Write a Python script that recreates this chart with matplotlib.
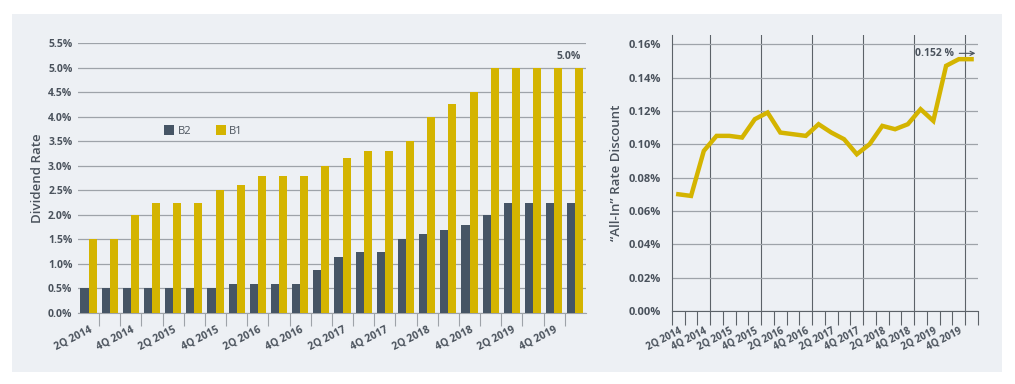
import numpy as np
import matplotlib.pyplot as plt
from matplotlib.patches import Rectangle

plt.rcParams['font.family'] = ['Open Sans', 'DejaVu Sans']

# quarters 2Q 2014 .. 1Q 2020
quarters = ['2Q 2014', '3Q 2014', '4Q 2014', '1Q 2015', '2Q 2015', '3Q 2015',
            '4Q 2015', '1Q 2016', '2Q 2016', '3Q 2016', '4Q 2016', '1Q 2017',
            '2Q 2017', '3Q 2017', '4Q 2017', '1Q 2018', '2Q 2018', '3Q 2018',
            '4Q 2018', '1Q 2019', '2Q 2019', '3Q 2019', '4Q 2019', '1Q 2020']

b2 = [0.5, 0.5, 0.5, 0.5, 0.5, 0.5, 0.5, 0.6, 0.6, 0.6, 0.6, 0.87,
      1.15, 1.25, 1.25, 1.5, 1.6, 1.7, 1.8, 2.0, 2.25, 2.25, 2.25, 2.25]
b1 = [1.5, 1.5, 2.0, 2.25, 2.25, 2.25, 2.5, 2.6, 2.8, 2.8, 2.8, 3.0,
      3.15, 3.3, 3.3, 3.5, 4.0, 4.25, 4.5, 5.0, 5.0, 5.0, 5.0, 5.0]

all_in = [0.070, 0.069, 0.096, 0.105, 0.105, 0.104, 0.115, 0.119, 0.107, 0.106,
          0.105, 0.112, 0.107, 0.103, 0.094, 0.100, 0.111, 0.109, 0.112, 0.121,
          0.114, 0.147, 0.151, 0.151]

left_yticks = [0, 0.5, 1, 1.5, 2, 2.5, 3, 3.5, 4, 4.5, 5, 5.5]
right_yticks = [0, 0.02, 0.04, 0.06, 0.08, 0.10, 0.12, 0.14, 0.16]

DARK = '#465565'
GOLD = '#D4B400'
BG = '#EDF0F4'
TXT = '#4A525C'
GRID = '#9EA3A9'

fig = plt.figure(figsize=(10.15, 3.84), dpi=100)
fig.patch.set_facecolor('white')
fig.patches.append(Rectangle((12 / 1015, 12 / 384), 990 / 1015, 358 / 384,
                             transform=fig.transFigure, facecolor=BG,
                             edgecolor='none', zorder=-10))

x = np.arange(len(quarters))

# ---------- left: dividend rate bars ----------
ax1 = fig.add_axes([0.0768, 0.1849, 0.5005, 0.703])
ax1.set_facecolor('none')
w = 0.38
ax1.bar(x - w / 2, b2, width=w, color=DARK, label='B2', zorder=3)
ax1.bar(x + w / 2, b1, width=w, color=GOLD, label='B1', zorder=3)
ax1.set_xlim(-0.5, len(quarters) - 0.5)
ax1.set_ylim(0, 5.5)
ax1.set_yticks(left_yticks)
ax1.set_yticklabels([f'{v:.1f}%' for v in left_yticks])
ax1.yaxis.grid(True, color=GRID, linewidth=0.9, zorder=0)
ax1.set_axisbelow(True)
for s in ['top', 'right', 'left']:
    ax1.spines[s].set_visible(False)
ax1.spines['bottom'].set_color(GRID)
ax1.tick_params(axis='y', length=0, pad=4, labelsize=7.5, labelcolor=TXT)
for lab in ax1.get_yticklabels():
    lab.set_fontweight('bold')
ax1.set_xticks(x[:-1] + 0.5)
ax1.set_xticklabels([])
ax1.tick_params(axis='x', which='major', length=9, color=GRID)
ax1.set_xticks(x[::2], minor=True)
ax1.set_xticklabels(quarters[::2], minor=True, rotation=27, ha='right',
                    rotation_mode='anchor', fontsize=7.5, color=TXT,
                    fontweight='bold')
ax1.tick_params(axis='x', which='minor', length=0, pad=8)
ax1.set_ylabel('Dividend Rate', fontsize=9.5, color=TXT, labelpad=3,
               fontweight='semibold')
ax1.text(22.7, 5.12, '5.0%', ha='center', va='bottom', fontsize=7.5,
         fontweight='bold', color=TXT)
ax1.legend(loc='center left', bbox_to_anchor=(0.15, 0.674), ncol=2,
           frameon=False, handlelength=0.9, handleheight=0.9,
           handletextpad=0.3, columnspacing=2.2, fontsize=8,
           labelcolor=TXT)

# ---------- right: all-in rate discount ----------
ax2 = fig.add_axes([0.662, 0.1901, 0.3015, 0.7188])
ax2.set_facecolor('none')
ax2.plot(x, all_in, color=GOLD, linewidth=3.2, solid_joinstyle='miter',
         zorder=4)
ax2.set_xlim(-0.5, len(quarters) - 0.5)
ax2.set_ylim(0, 0.1655)
ax2.set_yticks(right_yticks)
ax2.set_yticklabels([f'{v:.2f}%' for v in right_yticks])
ax2.yaxis.grid(True, color=GRID, linewidth=0.9, zorder=0)
for xv in [2.5, 6.5, 10.5, 14.5, 18.5, 22.5]:
    ax2.axvline(xv, color='#5C6268', linewidth=0.8, zorder=1)
for s in ['top', 'right']:
    ax2.spines[s].set_visible(False)
ax2.spines['left'].set_color('#5C6268')
ax2.spines['bottom'].set_color('#5C6268')
ax2.tick_params(axis='y', length=0, pad=8, labelsize=8, labelcolor=TXT)
for lab in ax2.get_yticklabels():
    lab.set_fontweight('bold')
ax2.set_xticks(np.arange(len(quarters) + 1) - 0.5)
ax2.set_xticklabels([])
ax2.tick_params(axis='x', which='major', length=10, color='#5C6268')
ax2.set_xticks(x[::2], minor=True)
ax2.set_xticklabels(quarters[::2], minor=True, rotation=27, ha='right',
                    rotation_mode='anchor', fontsize=7, color=TXT,
                    fontweight='bold')
ax2.tick_params(axis='x', which='minor', length=0, pad=10)
ax2.set_ylabel('\u201cAll-In\u201d Rate Discount', fontsize=9.5, color=TXT,
               labelpad=4, fontweight='semibold')
ax2.annotate('0.152 %', xy=(23.3, 0.1545), xytext=(21.6, 0.1545),
             ha='right', va='center', fontsize=7.5, fontweight='bold',
             color=TXT,
             arrowprops=dict(arrowstyle='->', color=TXT, lw=0.8,
                             shrinkA=2, shrinkB=0))

fig.savefig('out.png', dpi=100, facecolor='white')
